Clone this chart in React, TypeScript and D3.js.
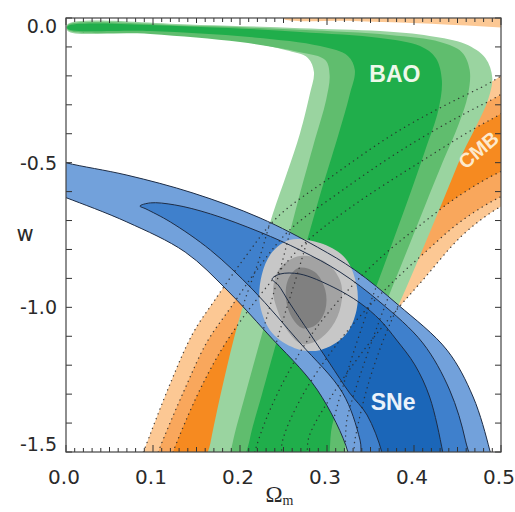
import * as React from 'react';
import * as d3 from 'd3';

type Pt = [number, number];

// axis ticks
const xTickLabels = [0, 0.1, 0.2, 0.3, 0.4, 0.5];
const yTickLabels = [0, -0.5, -1.0, -1.5];

// CMB contours (outer -> inner), points in (Omega_m, w)
const cmbTop: Pt[] = [[0.25, 0.01], [0.56, 0.01], [0.56, -0.042], [0.5, -0.033], [0.42, -0.02], [0.33, -0.01], [0.25, -0.003]];
const cmbOuter: Pt[] = [
  [0.079, -1.58], [0.089, -1.5], [0.12, -1.262], [0.146, -1.089], [0.171, -0.975], [0.206, -0.826],
  [0.243, -0.688], [0.303, -0.553], [0.384, -0.387], [0.476, -0.242], [0.545, -0.152],
  [0.545, -0.595], [0.499, -0.653], [0.456, -0.75], [0.41, -0.906], [0.372, -1.037], [0.338, -1.165],
  [0.306, -1.303], [0.28, -1.441], [0.269, -1.58]];
const cmbMid: Pt[] = [
  [0.097, -1.58], [0.106, -1.5], [0.136, -1.286], [0.162, -1.12], [0.189, -1.002], [0.221, -0.864],
  [0.257, -0.733], [0.315, -0.601], [0.395, -0.439], [0.482, -0.294], [0.545, -0.214],
  [0.545, -0.567], [0.499, -0.619], [0.453, -0.705], [0.413, -0.809], [0.372, -0.923], [0.332, -1.051],
  [0.298, -1.182], [0.269, -1.32], [0.249, -1.459], [0.243, -1.58]];
const cmbInner: Pt[] = [
  [0.114, -1.58], [0.123, -1.5], [0.151, -1.303], [0.177, -1.155], [0.203, -1.037], [0.237, -0.906],
  [0.272, -0.785], [0.326, -0.657], [0.407, -0.498], [0.487, -0.353], [0.545, -0.277],
  [0.545, -0.484], [0.499, -0.532], [0.453, -0.612], [0.407, -0.716], [0.361, -0.83], [0.321, -0.951],
  [0.286, -1.078], [0.257, -1.217], [0.232, -1.372], [0.217, -1.5], [0.211, -1.58]];

// BAO contours
const baoOuter: Pt[] = [
  [0.002, -0.021], [0.154, -0.024], [0.269, -0.035], [0.361, -0.045], [0.418, -0.062], [0.459, -0.09],
  [0.482, -0.138], [0.49, -0.207], [0.485, -0.283], [0.474, -0.359], [0.455, -0.474], [0.436, -0.612],
  [0.413, -0.778], [0.39, -0.94], [0.367, -1.096], [0.347, -1.269], [0.332, -1.459], [0.326, -1.58],
  [0.16, -1.58], [0.166, -1.469], [0.185, -1.206], [0.202, -1.009], [0.221, -0.843], [0.238, -0.674],
  [0.254, -0.536], [0.269, -0.398], [0.28, -0.266], [0.285, -0.187], [0.278, -0.138], [0.252, -0.111],
  [0.192, -0.076], [0.097, -0.052], [0.002, -0.045]];
const baoMid: Pt[] = [
  [0.002, -0.024], [0.154, -0.028], [0.269, -0.041], [0.372, -0.059], [0.43, -0.083], [0.455, -0.118],
  [0.464, -0.18], [0.462, -0.266], [0.451, -0.37], [0.433, -0.498], [0.413, -0.646], [0.39, -0.819],
  [0.367, -0.992], [0.344, -1.182], [0.324, -1.372], [0.31, -1.58], [0.186, -1.58], [0.191, -1.476],
  [0.206, -1.303], [0.225, -1.096], [0.246, -0.871], [0.267, -0.629], [0.286, -0.422], [0.299, -0.283],
  [0.303, -0.197], [0.298, -0.145], [0.269, -0.118], [0.2, -0.083], [0.097, -0.055], [0.002, -0.041]];
const baoInner: Pt[] = [
  [0.002, -0.028], [0.154, -0.031], [0.269, -0.048], [0.361, -0.069], [0.407, -0.097], [0.425, -0.138],
  [0.432, -0.214], [0.428, -0.318], [0.413, -0.456], [0.393, -0.629], [0.37, -0.819], [0.347, -1.009],
  [0.324, -1.217], [0.306, -1.407], [0.294, -1.58], [0.206, -1.58], [0.211, -1.459], [0.225, -1.303],
  [0.246, -1.078], [0.269, -0.854], [0.292, -0.612], [0.313, -0.404], [0.326, -0.266], [0.332, -0.18],
  [0.324, -0.131], [0.292, -0.097], [0.211, -0.066], [0.097, -0.045], [0.002, -0.038]];

// SNe contours
const sneOuter: Pt[] = [
  [-0.018, -0.484], [0.001, -0.501], [0.07, -0.543], [0.146, -0.605], [0.223, -0.691], [0.289, -0.792],
  [0.332, -0.871], [0.382, -0.992], [0.438, -1.148], [0.468, -1.31], [0.487, -1.493], [0.493, -1.58],
  [0.326, -1.58], [0.324, -1.5], [0.289, -1.286], [0.231, -1.089], [0.185, -0.94], [0.137, -0.809],
  [0.07, -0.705], [0.001, -0.622], [-0.018, -0.601]];
const sneMid: Pt[] = [
  [0.097, -0.639], [0.125, -0.646], [0.166, -0.677], [0.223, -0.74], [0.269, -0.802], [0.315, -0.878],
  [0.361, -0.982], [0.41, -1.123], [0.441, -1.286], [0.459, -1.459], [0.464, -1.58], [0.344, -1.58],
  [0.338, -1.459], [0.318, -1.296], [0.269, -1.123], [0.215, -0.94], [0.166, -0.802], [0.12, -0.705],
  [0.092, -0.66], [0.085, -0.65]];
const sneInner: Pt[] = [
  [0.237, -0.902], [0.246, -0.885], [0.269, -0.885], [0.307, -0.93], [0.338, -0.985], [0.361, -1.044],
  [0.38, -1.113], [0.401, -1.199], [0.418, -1.31], [0.433, -1.5], [0.437, -1.58], [0.367, -1.58],
  [0.363, -1.5], [0.346, -1.372], [0.326, -1.296], [0.303, -1.193], [0.28, -1.089], [0.257, -0.985],
  [0.244, -0.923]];

// combined constraints
const allOuter: Pt[] = [
  [0.257, -0.767], [0.292, -0.778], [0.321, -0.83], [0.334, -0.923], [0.334, -1.009], [0.321, -1.096],
  [0.292, -1.148], [0.263, -1.141], [0.237, -1.089], [0.223, -0.992], [0.225, -0.888], [0.237, -0.809]];
const allMid: Pt[] = [
  [0.269, -0.823], [0.298, -0.843], [0.315, -0.906], [0.317, -0.975], [0.309, -1.051], [0.29, -1.113],
  [0.271, -1.127], [0.254, -1.078], [0.243, -1.009], [0.238, -0.94], [0.246, -0.864]];
const allInner: Pt[] = [
  [0.267, -0.864], [0.286, -0.878], [0.298, -0.94], [0.298, -1.009], [0.287, -1.061], [0.272, -1.072],
  [0.26, -1.037], [0.253, -0.975], [0.255, -0.906]];

const cmbColors = ['#fcc894', '#f9a75c', '#f68a20'];
const baoColors = ['#9ad4a0', '#60bd6e', '#20ae4b'];
const sneColors = ['#72a1db', '#3f80cc', '#1b66b8'];
const allColors = ['#c7c7c7', '#a3a3a3', '#808080'];

const panelLabels = [
  { text: 'BAO', at: [0.378, -0.194] as Pt, rot: 0, fill: '#eef8ea', size: 23 },
  { text: 'SNe', at: [0.376, -1.327] as Pt, rot: 0, fill: '#eaf2fb', size: 23 },
  { text: 'CMB', at: [0.474, -0.456] as Pt, rot: -40, fill: '#fde9cc', size: 20 },
];

const W = 515, H = 512;
const L = 66, R = 501, T = 18, B = 452;

export default function App() {
  const x = d3.scaleLinear().domain([0, 0.5]).range([L, R]);
  const y = d3.scaleLinear().domain([-1.5, 0]).range([B, T]);
  const shape = d3.line<Pt>().x(d => x(d[0])).y(d => y(d[1])).curve(d3.curveCatmullRomClosed.alpha(0.5));

  const cmb = [cmbOuter, cmbMid, cmbInner];
  const bao = [baoOuter, baoMid, baoInner];
  const sne = [sneOuter, sneMid, sneInner];
  const all = [allOuter, allMid, allInner];
  const dotted = { fill: 'none', stroke: '#2a2a2a', strokeOpacity: 0.85, strokeWidth: 1.4, strokeDasharray: '0.1 5', strokeLinecap: 'round' as const };
  const font = 'DejaVu Sans, sans-serif';

  return (
    <div style={{ position: 'absolute', left: 0, top: 0 }}>
      <svg width={W} height={H} style={{ display: 'block', background: '#fff' }}>
        <defs>
          <clipPath id="plot"><rect x={L} y={T} width={R - L} height={B - T} /></clipPath>
          <clipPath id="sneclip"><path d={shape(sneOuter) || ''} /></clipPath>
        </defs>
        <g clipPath="url(#plot)">
          <path d={shape(cmbTop) || ''} fill={cmbColors[0]} />
          {cmb.map((c, i) => <path key={'c' + i} d={shape(c) || ''} fill={cmbColors[i]} />)}
          {bao.map((c, i) => <path key={'b' + i} d={shape(c) || ''} fill={baoColors[i]} />)}
          {sne.map((c, i) => <path key={'s' + i} d={shape(c) || ''} fill={sneColors[i]} />)}
          {all.map((c, i) => <path key={'a' + i} d={shape(c) || ''} fill={allColors[i]} />)}
          {sne.map((c, i) => <path key={'so' + i} d={shape(c) || ''} fill="none" stroke="#1d2c45" strokeWidth={1} />)}
          {cmb.map((c, i) => <path key={'cd' + i} d={shape(c) || ''} {...dotted} />)}
          <g clipPath="url(#sneclip)">
            {bao.map((c, i) => <path key={'bd' + i} d={shape(c) || ''} {...dotted} />)}
          </g>
          {panelLabels.map(l => (
            <text key={l.text} x={0} y={0} transform={`translate(${x(l.at[0])},${y(l.at[1])}) rotate(${l.rot})`}
              textAnchor="middle" dominantBaseline="central" fontFamily="Liberation Sans, Arial, sans-serif"
              fontWeight="bold" fontSize={l.size} fill={l.fill}>{l.text}</text>
          ))}
        </g>

        {/* ticks */}
        {x.ticks(50).map((t, i) => {
          const len = i % 10 === 0 ? 7 : i % 5 === 0 ? 5 : 4;
          return (
            <g key={'xt' + i} stroke="#333" strokeWidth={1}>
              <line x1={x(t)} x2={x(t)} y1={B} y2={B - len} />
              <line x1={x(t)} x2={x(t)} y1={T} y2={T + len} />
            </g>
          );
        })}
        {y.ticks(15).map((t, i) => (
          <g key={'yt' + i} stroke="#333" strokeWidth={1}>
            <line x1={L} x2={L + 6} y1={y(t)} y2={y(t)} />
            <line x1={R} x2={R - 6} y1={y(t)} y2={y(t)} />
          </g>
        ))}
        <rect x={L} y={T} width={R - L} height={B - T} fill="none" stroke="#444" strokeWidth={1.2} />

        {xTickLabels.map(t => (
          <text key={'xl' + t} x={x(t) - 2} y={B + 32} textAnchor="middle" fontFamily={font} fontSize={20} fill="#2a2a2a">
            {t.toFixed(1)}
          </text>
        ))}
        {yTickLabels.map((t, i) => (
          <text key={'yl' + t} x={L - 9} y={y(t)} textAnchor="end"
            dy={i === 0 ? '0.78em' : i === yTickLabels.length - 1 ? '-0.05em' : '0.36em'}
            fontFamily={font} fontSize={19} fill="#2a2a2a">
            {t.toFixed(1)}
          </text>
        ))}
        <text x={25} y={(T + B) / 2 + 6} textAnchor="middle" fontFamily={font} fontSize={21} fill="#2a2a2a">w</text>
        <text x={(L + R) / 2 - 4} y={502} textAnchor="middle" fontFamily="Liberation Serif, DejaVu Serif, serif" fontSize={23} fill="#2a2a2a">
          Ω<tspan fontSize={14} dy={3}>m</tspan>
        </text>
      </svg>
    </div>
  );
}
